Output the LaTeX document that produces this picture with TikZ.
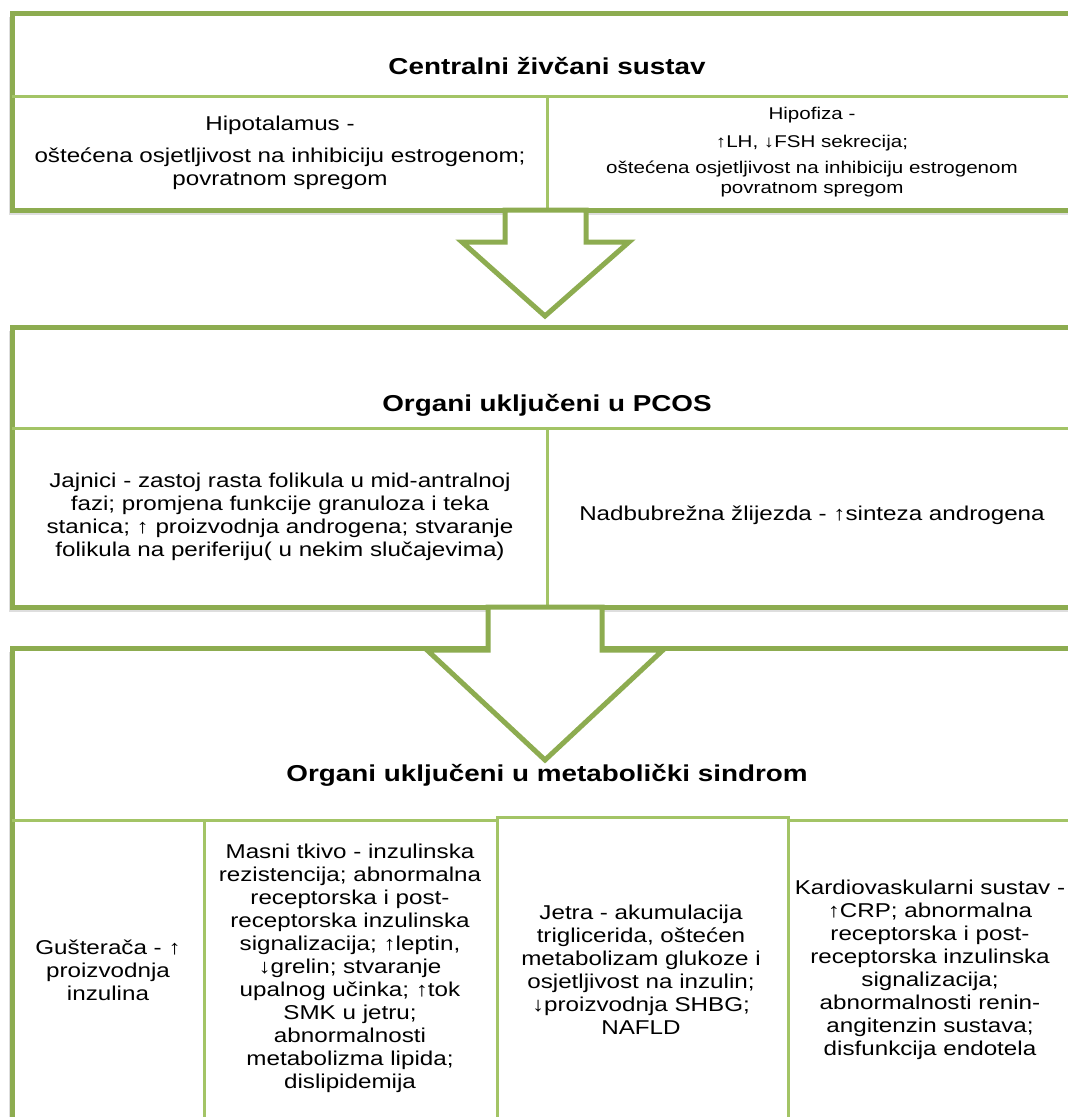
\documentclass[tikz,border=0pt]{standalone}
\usepackage{fontspec}
\setmainfont{Liberation Sans}[FakeStretch=1.21]
\definecolor{framegreen}{RGB}{141,172,80}
\definecolor{sepgreen}{RGB}{163,196,102}
\begin{document}
\begin{tikzpicture}[x=1pt,y=-1pt,
  frame/.style={draw=framegreen, line width=5pt, fill=white},
  shade/.style={fill=black!13},
  sep/.style={draw=sepgreen, line width=3pt},
  blockarrow/.style={draw=framegreen, line width=5pt, fill=white, line join=miter},
  title/.style={font=\fontsize{23}{28}\selectfont\bfseries},
  txt/.style={align=center, font=\fontsize{20}{23}\selectfont},
  smalltxt/.style={align=center, font=\fontsize{17}{20.5}\selectfont}]
\useasboundingbox (0,0) rectangle (1068,1117);
\clip (0,0) rectangle (1068,1117);
% shadows of the frames
\fill[shade] (9,17) rectangle (1090,215);
\fill[shade] (9,331) rectangle (1090,612);
\fill[shade] (9,652) rectangle (1090,1140);
% Centralni zivcani sustav
\draw[frame] (12,13) rectangle (1090,210);
\draw[sep] (12,96) -- (1090,96);
\draw[sep] (547,96) -- (547,210);
% Organi PCOS
\draw[frame] (12,327) rectangle (1090,607);
\draw[sep] (12,428) -- (1090,428);
\draw[sep] (547,428) -- (547,607);
% metabolicki sindrom
\draw[frame] (12,648) rectangle (1090,1140);
\draw[sep] (12,820) -- (1090,820);
\draw[sep] (204,820) -- (204,1140);
\draw[sep] (788,820) -- (788,1140);
\draw[sep, fill=white] (497,817) rectangle (788,1140);
% block arrows
\draw[blockarrow] (505,210) -- (505,242) -- (462,242) -- (545,316)
  -- (629,242) -- (586,242) -- (586,210) -- cycle;
\draw[blockarrow] (488,607) -- (488,650) -- (427,650) -- (545,760)
  -- (663,650) -- (602,650) -- (602,607) -- cycle;
% texts
\node[title] (cns) at (547,66) {Centralni živčani sustav};
\node[txt] (hipot) at (280,125) {Hipotalamus -};
\node[txt] (hipottxt) at (280,169) {oštećena osjetljivost  na inhibiciju  estrogenom;\\ povratnom spregom};
\node[smalltxt, align=center, font=\fontsize{17}{28}\selectfont] (hipof) at (812,129) {Hipofiza -\\ ↑LH, ↓FSH sekrecija;};
\node[smalltxt] (hipoftxt) at (812,179) {oštećena osjetljivost na inhibiciju estrogenom\\ povratnom spregom};
\node[title] (pcos) at (547,405) {Organi uključeni u PCOS};
\node[txt] (jajnici) at (280,517) {Jajnici - zastoj rasta folikula u mid-antralnoj\\ fazi; promjena funkcije granuloza i teka\\ stanica; ↑ proizvodnja androgena;  stvaranje\\ folikula na periferiju( u nekim slučajevima)};
\node[txt] (nadbub) at (812,515) {Nadbubrežna žlijezda - ↑sinteza androgena};
\node[title] (mets) at (547,775) {Organi uključeni u metabolički sindrom};
\node[txt] (gust) at (108,970) {Gušterača - ↑\\ proizvodnja\\ inzulina};
\node[txt] (masni) at (350,968) {Masni tkivo - inzulinska\\ rezistencija; abnormalna\\ receptorska i post-\\ receptorska inzulinska\\ signalizacija; ↑leptin,\\ ↓grelin; stvaranje\\ upalnog učinka; ↑tok\\ SMK u jetru;\\ abnormalnosti\\ metabolizma lipida;\\ dislipidemija};
\node[txt] (jetra) at (641,970) {Jetra - akumulacija\\ triglicerida, oštećen\\ metabolizam glukoze i\\ osjetljivost  na inzulin;\\ ↓proizvodnja SHBG;\\ NAFLD};
\node[txt] (kardio) at (930,970) {Kardiovaskularni sustav -\\ ↑CRP; abnormalna\\ receptorska i post-\\ receptorska inzulinska\\ signalizacija;\\ abnormalnosti renin-\\ angitenzin sustava;\\ disfunkcija endotela};
\end{tikzpicture}
\end{document}
